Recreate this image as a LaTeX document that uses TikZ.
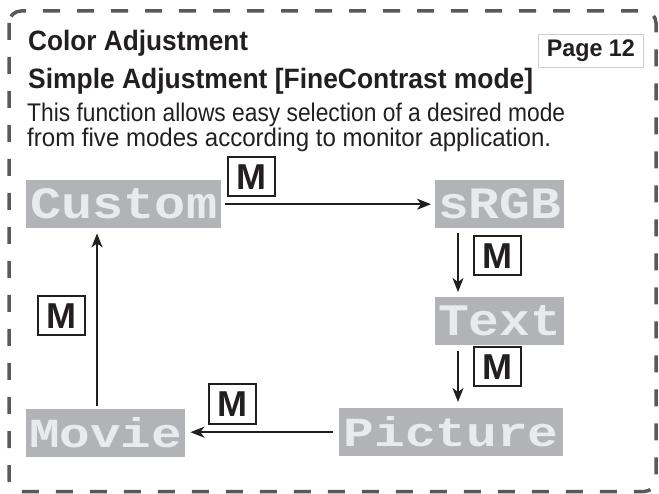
\documentclass[tikz,border=0pt]{standalone}
\usepackage{fontspec}
\usepackage{graphicx}
\setmainfont{Liberation Sans}
\newfontfamily\pixfont{Liberation Mono}
\usetikzlibrary{arrows.meta}
\definecolor{ink}{HTML}{231F20}
\definecolor{bordergray}{HTML}{58595B}
\definecolor{modegray}{HTML}{B1B3B7}
\definecolor{modetext}{HTML}{E9EAEC}
\definecolor{pageframe}{HTML}{CFCFCF}
\tikzset{
  border/.style={draw=bordergray, line width=3.5pt, dash pattern=on 17pt off 17pt, rounded corners=12pt},
  modebox/.style={fill=modegray, inner sep=0pt, minimum height=48pt, anchor=north west, text=modetext,
    font=\pixfont\bfseries\fontsize{50}{50}\selectfont},
  mbox/.style={draw=ink, line width=2pt, fill=white, minimum width=47pt, minimum height=39pt, inner sep=0pt,
    text=ink, font=\bfseries\fontsize{36}{36}\selectfont},
  flow/.style={draw=ink, line width=1.6pt, -{Stealth[length=14pt,width=11pt,inset=4pt]}},
  headline/.style={anchor=base west, inner sep=0pt, text=ink, font=\bfseries\fontsize{28}{30}\selectfont},
  bodyline/.style={anchor=base west, inner sep=0pt, text=ink, font=\fontsize{25.5}{28}\selectfont},
  pagebox/.style={draw=pageframe, line width=0.8pt, fill=white, minimum width=105pt, minimum height=33pt,
    inner sep=0pt, anchor=north west, text=ink, font=\bfseries\fontsize{24}{26}\selectfont}
}
\begin{document}
\begin{tikzpicture}[x=1pt,y=-1pt]
\useasboundingbox (0,0) rectangle (659,494);
\draw[border] (9,11) rectangle (656,491.5);

\node[headline] (t1) at (28,51) {\resizebox{220pt}{\height}{Color Adjustment}};
\node[headline] (t2) at (28,89) {\resizebox{505pt}{\height}{Simple Adjustment [FineContrast mode]}};
\node[bodyline] (b1) at (27,122) {\resizebox{538pt}{\height}{This function allows easy selection of a desired mode}};
\node[bodyline] (b2) at (27,147) {\resizebox{524pt}{\height}{from five modes according to monitor application.}};
\node[pagebox] (page) at (538,34) {\resizebox{88pt}{\height}{Page 12}};

\node[modebox, minimum width=195pt] (custom) at (26,180) {\resizebox{187pt}{30pt}{Custom}};
\node[modebox, minimum width=129pt] (srgb) at (435,180) {\resizebox{123pt}{30pt}{sRGB}};
\node[modebox, minimum width=129pt] (txt) at (435,297) {\resizebox{123pt}{30pt}{Text}};
\node[modebox, minimum width=224pt] (pic) at (339,408) {\resizebox{215pt}{30pt}{Picture}};
\node[modebox, minimum width=159pt] (movie) at (26,409) {\resizebox{153pt}{30pt}{Movie}};

\node[mbox] (m1) at (251,177) {M};
\node[mbox] (m2) at (497.5,256) {M};
\node[mbox] (m3) at (497.5,367) {M};
\node[mbox] (m4) at (232.5,404) {M};
\node[mbox] (m5) at (61,316) {M};

\draw[flow, shorten <=4pt, shorten >=4pt] (custom.east) -- (srgb.west);
\draw[flow, shorten <=5pt, shorten >=5pt] ([xshift=23pt]srgb.south west) -- ([xshift=23pt]txt.north west);
\draw[flow, shorten <=6pt, shorten >=6pt] ([xshift=23pt]txt.south west) -- ([xshift=23pt]txt.south west |- pic.north);
\draw[flow, shorten <=6pt, shorten >=5pt] (pic.west) -- (pic.west -| movie.east);
\draw[flow, shorten <=3pt, shorten >=5pt] ([xshift=71pt]movie.north west) -- ([xshift=71pt]movie.north west |- custom.south);
\end{tikzpicture}
\end{document}
